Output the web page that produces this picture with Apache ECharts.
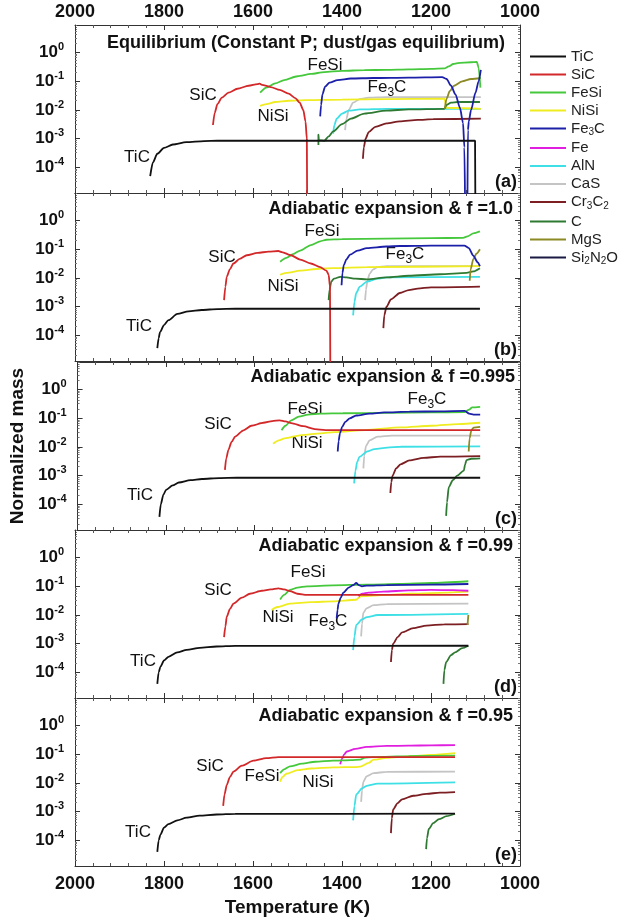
<!DOCTYPE html>
<html><head><meta charset="utf-8">
<script src="https://cdn.jsdelivr.net/npm/echarts@6/dist/echarts.min.js"></script>
<style>html,body{margin:0;padding:0;background:#fff}#c{width:626px;height:924px}</style>
</head><body><div id="c"></div>
<script>
// ---------- category / tick data ----------
const SPECIES = ['TiC','SiC','FeSi','NiSi','Fe3C','Fe','AlN','CaS','Cr3C2','C','MgS','Si2N2O'];
const COLORS  = ['#111111','#d3282a','#46c83c','#f0ec22','#1c20a8','#e01ee0','#3ee0e6','#c4c4c4','#7c1e22','#2f7a32','#8c8a24','#1a1a44'];
const X_TICKS = [2000,1800,1600,1400,1200,1000];
const Y_DECADES = [0,-1,-2,-3,-4];
const PANEL_TITLES = ['Equilibrium (Constant P; dust/gas equilibrium)','Adiabatic expansion & f =1.0','Adiabatic expansion & f =0.995','Adiabatic expansion & f =0.99','Adiabatic expansion & f =0.95'];
const PANEL_TAGS = ['(a)','(b)','(c)','(d)','(e)'];

// ---------- panel (a) ----------
const TiC_a = [[1831,5e-5],[1825,1.5e-4],[1815,3e-4],[1800,4.8e-4],[1780,6.3e-4],[1750,7.6e-4],[1710,8.3e-4],[1680,8.5e-4],[1101,8.5e-4],[1100,1e-7]];
const SiC_a = [[1690,3e-3],[1686,8e-3],[1680,1.6e-2],[1670,2.7e-2],[1655,4e-2],[1635,5.5e-2],[1610,7e-2],[1590,8e-2],[1585,8.3e-2],[1580,7.5e-2],[1560,6.3e-2],[1540,5e-2],[1520,3.7e-2],[1505,2.6e-2],[1495,1.8e-2],[1487,1e-2],[1482,4e-3],[1479,1e-3],[1478,1e-7]];
const FeSi_a = [[1584,4e-2],[1570,6e-2],[1550,8.5e-2],[1530,0.11],[1500,0.15],[1470,0.18],[1440,0.21],[1400,0.23],[1350,0.245],[1300,0.25],[1250,0.26],[1200,0.27],[1170,0.28],[1160,0.33],[1150,0.4],[1140,0.43],[1110,0.46],[1097,0.47],[1093,0.3],[1089,0.06]];
const NiSi_a = [[1584,1.4e-2],[1570,1.6e-2],[1550,1.9e-2],[1520,2.1e-2],[1480,2.2e-2],[1400,2.3e-2],[1300,2.4e-2],[1170,2.5e-2],[1165,1.2e-2],[1088,1.1e-2]];
const Fe3C_a = [[1449,6e-3],[1447,1.5e-2],[1444,3.5e-2],[1438,6.5e-2],[1428,9e-2],[1410,0.11],[1380,0.125],[1330,0.13],[1250,0.135],[1175,0.14],[1165,0.12],[1155,0.07],[1145,0.035],[1135,0.012],[1128,3.5e-3],[1125,5e-4],[1122,1e-7],[1119,1e-7],[1117,2e-3],[1115,4e-3],[1110,1e-2],[1100,4e-2],[1093,0.1],[1088,0.25]];
const CaS_a = [[1393,2e-3],[1390,5e-3],[1385,1e-2],[1375,1.8e-2],[1360,2.4e-2],[1340,2.7e-2],[1300,2.8e-2],[1088,2.8e-2]];
const AlN_a = [[1420,1.5e-3],[1417,3e-3],[1412,5e-3],[1400,7.5e-3],[1385,9.5e-3],[1360,1.05e-2],[1300,1.1e-2],[1088,1.1e-2]];
const Cr3C2_a = [[1353,2e-4],[1351,5e-4],[1347,1e-3],[1340,1.7e-3],[1325,2.6e-3],[1300,3.4e-3],[1270,4e-3],[1230,4.5e-3],[1195,4.8e-3],[1088,5e-3]];
const C_a = [[1453,6e-4],[1453,1.4e-3],[1452,9e-4],[1440,8.5e-4],[1430,1.2e-3],[1420,1.8e-3],[1400,3.2e-3],[1380,5e-3],[1350,7.5e-3],[1300,9.5e-3],[1250,1.05e-2],[1170,1.1e-2],[1165,1.5e-2],[1155,1.8e-2],[1140,1.9e-2],[1090,1.9e-2]];
const MgS_a = [[1169,1.1e-2],[1165,2.5e-2],[1158,4.5e-2],[1148,7e-2],[1130,0.1],[1110,0.12],[1088,0.13]];

// ---------- panel (b) f = 1.0 ----------
const TiC_b = [[1815,3.6e-5],[1812,8e-5],[1809,1.3e-4],[1800,2.3e-4],[1790,3.4e-4],[1770,5.6e-4],[1745,6.9e-4],[1715,7.7e-4],[1680,8.3e-4],[1640,8.5e-4],[1090,8.5e-4]];
const SiC_b = [[1665,1.7e-3],[1662,5e-3],[1659,1.1e-2],[1652,2e-2],[1644,3.2e-2],[1630,4.6e-2],[1614,6.2e-2],[1590,7.5e-2],[1565,8.3e-2],[1543,8.7e-2],[1535,8e-2],[1515,6.2e-2],[1494,4.4e-2],[1470,3.2e-2],[1449,2.4e-2],[1435,1.8e-2],[1430,1.3e-2],[1427,5e-3],[1426,1e-7]];
const FeSi_b = [[1539,3.7e-2],[1525,5e-2],[1510,6.8e-2],[1494,9e-2],[1470,0.14],[1449,0.19],[1435,0.215],[1400,0.225],[1300,0.235],[1200,0.245],[1128,0.25],[1118,0.28],[1105,0.36],[1090,0.42]];
const NiSi_b = [[1539,1.3e-2],[1525,1.5e-2],[1494,1.8e-2],[1450,2.1e-2],[1420,2.2e-2],[1344,2.4e-2],[1090,2.6e-2]];
const Fe3C_b = [[1401,5.6e-3],[1399,1.5e-2],[1396,2.8e-2],[1390,4.5e-2],[1382,6.5e-2],[1365,9e-2],[1344,0.11],[1300,0.125],[1270,0.13],[1200,0.135],[1125,0.135],[1115,0.11],[1105,0.06],[1095,0.035],[1090,0.026]];
const CaS_b = [[1348,1.7e-3],[1346,4e-3],[1343,8e-3],[1338,1.4e-2],[1330,2e-2],[1320,2.4e-2],[1300,2.6e-2],[1090,2.6e-2]];
const AlN_b = [[1375,5e-4],[1372,1.5e-3],[1368,3e-3],[1360,5e-3],[1344,7.5e-3],[1320,9.5e-3],[1300,1.05e-2],[1090,1.1e-2]];
const Cr3C2_b = [[1307,1.8e-4],[1305,5e-4],[1300,1e-3],[1290,1.8e-3],[1270,3e-3],[1250,3.8e-3],[1230,4.3e-3],[1200,4.7e-3],[1090,5e-3]];
const C_b = [[1430,1.7e-3],[1428,4e-3],[1424,7.5e-3],[1418,9.5e-3],[1404,1.1e-2],[1390,1.05e-2],[1370,9.5e-3],[1344,9e-3],[1300,1.05e-2],[1250,1.2e-2],[1180,1.35e-2],[1120,1.5e-2],[1105,1.7e-2],[1090,2.2e-2]];
const MgS_b = [[1113,8e-3],[1111,2e-2],[1105,4.5e-2],[1098,7e-2],[1090,0.1]];

// ---------- panel (c) f = 0.995 ----------
const TiC_c = [[1815,3.7e-5],[1812,1e-4],[1806,2.2e-4],[1800,3.2e-4],[1785,4.6e-4],[1771,5.8e-4],[1745,7e-4],[1719,7.7e-4],[1680,8.3e-4],[1640,8.5e-4],[1090,8.5e-4]];
const SiC_c = [[1667,1.6e-3],[1664,4e-3],[1659,8e-3],[1652,1.5e-2],[1644,2.3e-2],[1625,3.8e-2],[1607,5.5e-2],[1580,7e-2],[1560,8e-2],[1543,8.5e-2],[1530,7.8e-2],[1517,6.8e-2],[1490,5.3e-2],[1464,4.2e-2],[1440,3.9e-2],[1090,3.9e-2]];
const FeSi_c = [[1539,3.8e-2],[1530,5.5e-2],[1517,8.5e-2],[1500,0.115],[1479,0.135],[1450,0.145],[1400,0.15],[1300,0.155],[1200,0.16],[1125,0.165],[1115,0.2],[1108,0.24],[1090,0.25]];
const NiSi_c = [[1558,1.3e-2],[1545,1.7e-2],[1532,2e-2],[1494,2.6e-2],[1450,3e-2],[1420,3.3e-2],[1350,3.9e-2],[1270,4.8e-2],[1200,5.5e-2],[1140,6.3e-2],[1090,7e-2]];
const Fe3C_c = [[1412,7e-3],[1410,1.6e-2],[1407,3e-2],[1402,5e-2],[1395,7.5e-2],[1385,0.1],[1370,0.125],[1340,0.145],[1307,0.16],[1250,0.17],[1180,0.175],[1125,0.18],[1115,0.145],[1105,0.135],[1090,0.135]];
const CaS_c = [[1354,1.8e-3],[1352,5e-3],[1348,1.1e-2],[1340,1.7e-2],[1322,2.3e-2],[1290,2.5e-2],[1090,2.5e-2]];
const AlN_c = [[1375,5.4e-4],[1372,1.5e-3],[1368,3e-3],[1363,4.5e-3],[1345,7e-3],[1329,8.5e-3],[1300,9.5e-3],[1270,1.02e-2],[1090,1.05e-2]];
const Cr3C2_c = [[1293,2.5e-4],[1291,6e-4],[1288,1e-3],[1280,1.8e-3],[1270,2.5e-3],[1250,3.4e-3],[1218,4.2e-3],[1180,4.6e-3],[1090,4.8e-3]];
const C_c = [[1167,4e-5],[1165,1.2e-4],[1161,4e-4],[1152,7e-4],[1142,1e-3],[1127,1.5e-3],[1124,2.5e-3],[1121,3.5e-3],[1110,3.9e-3],[1090,4e-3]];
const MgS_c = [[1116,7e-3],[1114,2e-2],[1110,3.8e-2],[1105,4.7e-2],[1090,5e-2]];

// ---------- panel (d) f = 0.99 ----------
const TiC_d = [[1815,4e-5],[1812,1e-4],[1808,1.6e-4],[1800,2.6e-4],[1790,3.5e-4],[1770,5e-4],[1749,6.1e-4],[1720,7.2e-4],[1682,8e-4],[1640,8.4e-4],[1116,8.5e-4]];
const SiC_d = [[1665,1.7e-3],[1662,4e-3],[1659,8.7e-3],[1652,1.6e-2],[1644,2.5e-2],[1625,4e-2],[1607,5.5e-2],[1580,7e-2],[1560,7.8e-2],[1543,8.5e-2],[1530,7.8e-2],[1517,6.8e-2],[1500,5.5e-2],[1479,5e-2],[1116,5e-2]];
const FeSi_d = [[1539,3.5e-2],[1530,5e-2],[1517,7.5e-2],[1500,9e-2],[1479,0.1],[1420,0.108],[1344,0.115],[1270,0.12],[1200,0.13],[1116,0.15]];
const NiSi_d = [[1558,1.5e-2],[1545,1.9e-2],[1517,2.5e-2],[1470,2.8e-2],[1420,3e-2],[1368,3.4e-2],[1362,4e-2],[1359,4.5e-2],[1300,5e-2],[1250,5.5e-2],[1116,6.5e-2]];
const Fe3C_d = [[1412,7.6e-3],[1410,1.5e-2],[1408,2.5e-2],[1403,4e-2],[1397,6e-2],[1385,9e-2],[1375,0.11],[1368,0.13],[1362,0.11],[1355,0.1],[1344,0.105],[1300,0.11],[1200,0.115],[1116,0.12]];
const Fe_d = [[1363,4.5e-2],[1355,5.5e-2],[1340,6e-2],[1307,6.5e-2],[1250,7.2e-2],[1200,7.5e-2],[1150,7.3e-2],[1116,7e-2]];
const CaS_d = [[1357,1.8e-3],[1355,5e-3],[1352,1.2e-2],[1345,1.7e-2],[1329,2.2e-2],[1300,2.4e-2],[1116,2.5e-2]];
const AlN_d = [[1375,6e-4],[1372,1.8e-3],[1368,4.5e-3],[1355,7e-3],[1344,8.5e-3],[1320,1e-2],[1116,1.1e-2]];
const Cr3C2_d = [[1290,2.3e-4],[1288,6e-4],[1285,1e-3],[1275,1.7e-3],[1265,2.5e-3],[1240,3.5e-3],[1210,4.3e-3],[1170,4.7e-3],[1116,4.8e-3]];
const C_d = [[1172,4e-5],[1170,1.2e-4],[1166,2.3e-4],[1155,4e-4],[1146,5e-4],[1130,7e-4],[1116,8.5e-4]];
const MgS_d = [[1118,4.5e-3],[1116,1e-2]];

// ---------- panel (e) f = 0.95 ----------
const TiC_e = [[1815,4e-5],[1812,1e-4],[1808,1.6e-4],[1800,2.8e-4],[1790,3.7e-4],[1770,5e-4],[1749,6.2e-4],[1720,7.3e-4],[1682,8e-4],[1640,8.4e-4],[1146,8.6e-4]];
const SiC_e = [[1667,1.6e-3],[1664,4e-3],[1659,8.5e-3],[1652,1.6e-2],[1644,2.5e-2],[1625,4e-2],[1599,6e-2],[1570,7.3e-2],[1543,8e-2],[1146,8e-2]];
const FeSi_e = [[1539,2.2e-2],[1530,3e-2],[1517,3.8e-2],[1490,4.7e-2],[1460,5.5e-2],[1420,6e-2],[1380,6.3e-2],[1359,6.5e-2],[1350,7.5e-2],[1330,8e-2],[1250,8.6e-2],[1146,9e-2]];
const NiSi_e = [[1539,1.1e-2],[1534,1.6e-2],[1525,2.1e-2],[1500,2.8e-2],[1470,3.2e-2],[1420,3.5e-2],[1370,3.6e-2],[1359,3.7e-2],[1340,5e-2],[1329,6.5e-2],[1300,7.5e-2],[1250,8.5e-2],[1200,9.5e-2],[1146,0.11]];
const Fe_e = [[1404,4.5e-2],[1400,7e-2],[1395,0.1],[1389,0.125],[1370,0.155],[1344,0.18],[1300,0.195],[1250,0.2],[1200,0.205],[1146,0.21]];
const CaS_e = [[1357,2.2e-3],[1355,5.5e-3],[1352,1.1e-2],[1345,1.7e-2],[1329,2.2e-2],[1300,2.45e-2],[1146,2.5e-2]];
const AlN_e = [[1375,5e-4],[1372,1.6e-3],[1368,4e-3],[1355,6.5e-3],[1344,8e-3],[1320,9.5e-3],[1146,1.05e-2]];
const Cr3C2_e = [[1290,1.8e-4],[1288,6e-4],[1285,1.2e-3],[1275,2e-3],[1265,2.7e-3],[1240,3.6e-3],[1210,4.2e-3],[1180,4.6e-3],[1146,4.8e-3]];
const C_e = [[1211,5e-5],[1209,1.2e-4],[1205,2.5e-4],[1195,4e-4],[1182,5.5e-4],[1165,7e-4],[1146,8.5e-4]];

const PANELS = [
  {CaS:CaS_a, AlN:AlN_a, NiSi:NiSi_a, Cr3C2:Cr3C2_a, C:C_a, MgS:MgS_a, FeSi:FeSi_a, SiC:SiC_a, Fe3C:Fe3C_a, TiC:TiC_a},
  {CaS:CaS_b, AlN:AlN_b, NiSi:NiSi_b, Cr3C2:Cr3C2_b, C:C_b, MgS:MgS_b, FeSi:FeSi_b, SiC:SiC_b, Fe3C:Fe3C_b, TiC:TiC_b},
  {CaS:CaS_c, AlN:AlN_c, NiSi:NiSi_c, Cr3C2:Cr3C2_c, C:C_c, MgS:MgS_c, FeSi:FeSi_c, SiC:SiC_c, Fe3C:Fe3C_c, TiC:TiC_c},
  {CaS:CaS_d, AlN:AlN_d, NiSi:NiSi_d, Cr3C2:Cr3C2_d, C:C_d, MgS:MgS_d, Fe:Fe_d, FeSi:FeSi_d, SiC:SiC_d, Fe3C:Fe3C_d, TiC:TiC_d},
  {CaS:CaS_e, AlN:AlN_e, NiSi:NiSi_e, Cr3C2:Cr3C2_e, C:C_e, Fe:Fe_e, FeSi:FeSi_e, SiC:SiC_e, TiC:TiC_e}
];

// curve annotations per panel: [text, x, y]
const CURVE_LABELS = [
  [['FeSi',325,65],['SiC',203,95],['Fe3C',387,87],['NiSi',273,116],['TiC',137,157]],
  [['FeSi',322,231],['SiC',222,257],['Fe3C',405,254],['NiSi',283,286],['TiC',139,326]],
  [['FeSi',305,409],['SiC',218,424],['Fe3C',427,399],['NiSi',307,443],['TiC',140,495]],
  [['FeSi',308,572],['SiC',218,590],['NiSi',278,617],['Fe3C',328,621],['TiC',143,661]],
  [['SiC',210,766],['FeSi',262,776],['NiSi',318,782],['TiC',138,832]]
];

// ---------- layout ----------
const FONT = "'Liberation Sans', Arial, Helvetica, sans-serif";
const GRID_LEFT = 75, GRID_W = 445, GRID_H = 168;
const GRID_TOPS = [25, 193, 362, 530, 698];
const Y_MIN = Math.pow(10, -4.89), Y_MAX = Math.pow(10, 0.96);
const AX = '#333';

function sub(name){ // rich text with subscripts
  return name.replace(/([A-Za-z]+)|(\d)/g, (m, a, d) => a ? '{n|' + a + '}' : '{s|' + d + '}');
}
function yFmt(v){
  const e = Math.log10(v), r = Math.round(e);
  if (Math.abs(e - r) > 1e-6 || Y_DECADES.indexOf(r) < 0) return '';
  return '{b|10}{s|' + r + '}';
}

const grids = [], xAxes = [], yAxes = [], series = [];
GRID_TOPS.forEach((top, i) => {
  grids.push({left: GRID_LEFT, top: top, width: GRID_W, height: GRID_H, containLabel: false});
  ['bottom','top'].forEach(pos => {
    const showLab = (pos === 'bottom' && i === 4) || (pos === 'top' && i === 0);
    xAxes.push({
      type: 'value', gridIndex: i, position: pos, min: 1000, max: 2000, interval: 200, inverse: true,
      axisLine: {show: true, onZero: false, lineStyle: {color: AX, width: 1}},
      axisTick: {show: true, inside: true, length: 5, lineStyle: {color: AX}},
      minorTick: {show: true, splitNumber: 5, length: 3, lineStyle: {color: '#555'}},
      splitLine: {show: false},
      axisLabel: {show: showLab, margin: pos === 'top' ? 4 : 9, color: '#111', fontFamily: FONT, fontWeight: 'bold', fontSize: 18,
        formatter: v => X_TICKS.indexOf(v) >= 0 ? String(v) : ''},
      name: (pos === 'bottom' && i === 4) ? 'Temperature (K)' : '',
      nameLocation: 'middle', nameGap: 32,
      nameTextStyle: {color: '#111', fontFamily: FONT, fontWeight: 'bold', fontSize: 19}
    });
  });
  ['left','right'].forEach(pos => {
    yAxes.push({
      type: 'log', logBase: 10, gridIndex: i, position: pos, min: Y_MIN, max: Y_MAX,
      axisLine: {show: true, onZero: false, lineStyle: {color: AX, width: 1}},
      axisTick: {show: true, inside: true, length: 5, lineStyle: {color: AX}},
      minorTick: {show: true, splitNumber: 8, length: 2, lineStyle: {color: '#777'}},
      splitLine: {show: false},
      axisLabel: {show: pos === 'left', margin: 11, formatter: yFmt,
        rich: {
          b: {fontFamily: FONT, fontWeight: 'bold', fontSize: 17, lineHeight: 22, color: '#111'},
          s: {fontFamily: FONT, fontWeight: 'bold', fontSize: 11, lineHeight: 10, verticalAlign: 'top', color: '#111'}
        }},
      name: (pos === 'left' && i === 2) ? 'Normalized mass' : '',
      nameLocation: 'middle', nameGap: 50, nameRotate: 90,
      nameTextStyle: {color: '#111', fontFamily: FONT, fontWeight: 'bold', fontSize: 19}
    });
  });
  const panel = PANELS[i];
  Object.keys(panel).forEach(sp => {
    const k = SPECIES.indexOf(sp);
    series.push({
      name: sp, type: 'line', xAxisIndex: 2 * i, yAxisIndex: 2 * i, data: panel[sp],
      symbol: 'none', showSymbol: false, smooth: 0.25, smoothMonotone: 'x', clip: true,
      lineStyle: {color: COLORS[k], width: 1.8}, itemStyle: {color: COLORS[k]},
      emphasis: {disabled: true}, silent: true
    });
  });
});
// legend-only series for Si2N2O (no mark in panels)
series.push({name: 'Si2N2O', type: 'line', xAxisIndex: 0, yAxisIndex: 0, data: [], symbol: 'none',
  lineStyle: {color: COLORS[11], width: 1.8}, itemStyle: {color: COLORS[11]}});

// ---------- annotations ----------
const graphic = [];
const labRich = {
  n: {fontFamily: FONT, fontSize: 17, lineHeight: 24, fill: '#111'},
  s: {fontFamily: FONT, fontSize: 12, lineHeight: 24, verticalAlign: 'bottom', fill: '#111'}
};
CURVE_LABELS.forEach(list => list.forEach(([t, x, y]) => {
  graphic.push({type: 'text', x: x, y: y, silent: true,
    style: {text: sub(t), rich: labRich, align: 'center', verticalAlign: 'middle', fill: '#111'}});
}));
const TITLE_POS = [[505,43],[513,209],[515,377],[513,546],[513,716]];
PANEL_TITLES.forEach((t, i) => {
  graphic.push({type: 'text', x: TITLE_POS[i][0], y: TITLE_POS[i][1], silent: true,
    style: {text: t, font: 'bold 18px ' + FONT, fill: '#111', align: 'right', verticalAlign: 'middle'}});
  graphic.push({type: 'text', x: 517, y: GRID_TOPS[i] + GRID_H - 11, silent: true,
    style: {text: PANEL_TAGS[i], font: 'bold 18px ' + FONT, fill: '#111', align: 'right', verticalAlign: 'middle'}});
});

const chart = echarts.init(document.getElementById('c'), null, {renderer: 'canvas'});
chart.setOption({
  animation: false,
  backgroundColor: '#fff',
  grid: grids, xAxis: xAxes, yAxis: yAxes, series: series, graphic: graphic,
  legend: {
    orient: 'vertical', left: 530, top: 49, padding: 0, itemWidth: 36, itemHeight: 2, itemGap: 3.0,
    icon: 'rect', data: SPECIES, selectedMode: false,
    formatter: n => sub(n),
    textStyle: {fontFamily: FONT, fontSize: 15, color: '#222',
      rich: {
        n: {fontFamily: FONT, fontSize: 15, lineHeight: 18, color: '#222'},
        s: {fontFamily: FONT, fontSize: 10, lineHeight: 18, verticalAlign: 'bottom', color: '#222'}
      }}
  }
});
</script></body></html>
